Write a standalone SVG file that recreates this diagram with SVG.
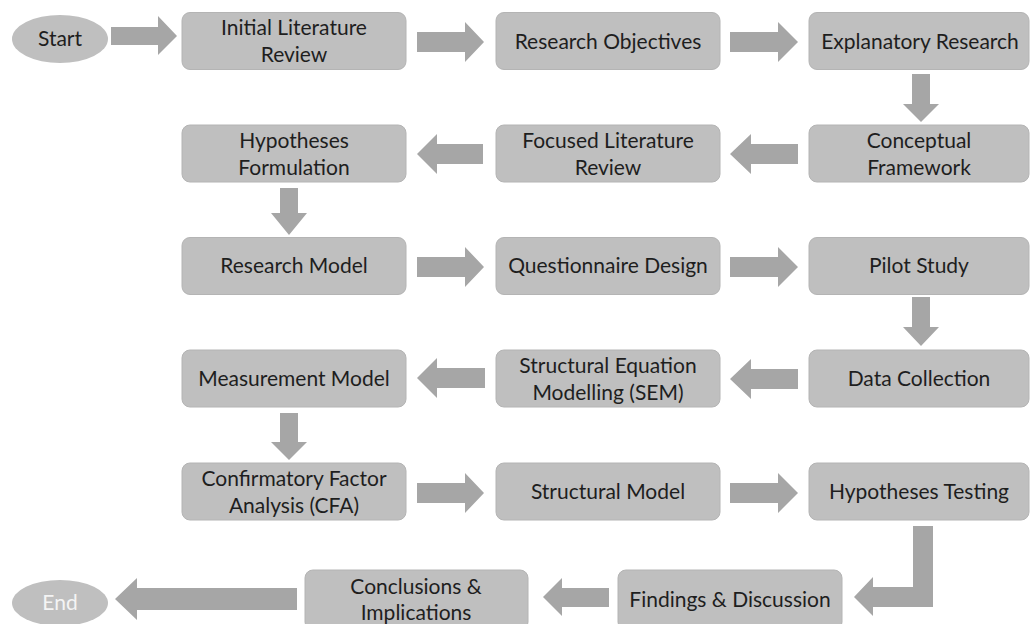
<svg xmlns="http://www.w3.org/2000/svg" width="1030" height="624" viewBox="0 0 1030 624">
  <style>
    .box { fill: #bfbfbf; stroke: #b4b4b4; stroke-width: 1; }
    .term { fill: #bfbfbf; }
    .arrow { fill: #a6a6a6; }
    text { font-family: Lato, "Open Sans", sans-serif; font-size: 21px; fill: #1e1e1e; text-anchor: middle; }
    .light { fill: #f4f4f4; }
  </style>

  <!-- Block-arrow connectors -->
  <g id="connectors">
    <!-- row 1 (rightward) -->
    <path class="arrow" d="M111,27 H158 V16 L177,36 L158,55 V45 H111 Z"/>
    <path class="arrow" d="M417,32 H465 V22 L484,42 L465,62 V52 H417 Z"/>
    <path class="arrow" d="M730,32 H778 V22 L798,42 L778,62 V52 H730 Z"/>
    <!-- Explanatory Research to Conceptual Framework -->
    <path class="arrow" d="M912,74 V104 H903 L921,122 L939,104 H930 V74 Z"/>
    <!-- row 2 (leftward) -->
    <path class="arrow" d="M798,144 H751 V134 L730,154 L751,174 V164 H798 Z"/>
    <path class="arrow" d="M483,144 H437 V134 L417,154 L437,174 V164 H483 Z"/>
    <!-- Hypotheses Formulation to Research Model -->
    <path class="arrow" d="M280,188 V213 H271 L289,235 L307,213 H298 V188 Z"/>
    <!-- row 3 (rightward) -->
    <path class="arrow" d="M417,257 H465 V247 L484,267 L465,287 V277 H417 Z"/>
    <path class="arrow" d="M730,257 H778 V247 L798,267 L778,287 V277 H730 Z"/>
    <!-- Pilot Study to Data Collection -->
    <path class="arrow" d="M912,297 V327 H903 L921,346 L939,327 H930 V297 Z"/>
    <!-- row 4 (leftward) -->
    <path class="arrow" d="M798,369 H751 V359 L730,379 L751,399 V389 H798 Z"/>
    <path class="arrow" d="M485,368 H437 V358 L417,378 L437,398 V388 H485 Z"/>
    <!-- Measurement Model to CFA -->
    <path class="arrow" d="M280,413 V442 H271 L289,460 L307,442 H298 V413 Z"/>
    <!-- row 5 (rightward) -->
    <path class="arrow" d="M417,483 H465 V473 L484,493 L465,513 V503 H417 Z"/>
    <path class="arrow" d="M730,483 H778 V473 L798,493 L778,513 V503 H730 Z"/>
    <!-- Hypotheses Testing down and round to Findings -->
    <path class="arrow" d="M913,526 H933 V607 H873 V616 L854,597 L873,577 V587 H913 Z"/>
    <!-- row 6 (leftward) -->
    <path class="arrow" d="M609,588 H562 V578 L543,597 L562,616 V607 H609 Z"/>
    <path class="arrow" d="M297,588 H137 V578 L115,599 L137,620 V610 H297 Z"/>
  </g>

  <g id="start">
    <ellipse class="term" cx="60" cy="39" rx="48" ry="24"/>
    <text x="60" y="46">Start</text>
  </g>

  <g id="initial-literature-review">
    <rect class="box" x="182" y="12.5" width="224" height="57" rx="8"/>
    <text x="294" y="35">Initial Literature</text>
    <text x="294" y="62">Review</text>
  </g>

  <g id="research-objectives">
    <rect class="box" x="496" y="12.5" width="224" height="57" rx="8"/>
    <text x="608" y="49">Research Objectives</text>
  </g>

  <g id="explanatory-research">
    <rect class="box" x="809" y="12.5" width="220" height="57" rx="8"/>
    <text x="920" y="49">Explanatory Research</text>
  </g>

  <g id="conceptual-framework">
    <rect class="box" x="809" y="125" width="220" height="57" rx="8"/>
    <text x="919" y="148">Conceptual</text>
    <text x="919" y="175">Framework</text>
  </g>

  <g id="focused-literature-review">
    <rect class="box" x="496" y="125" width="224" height="57" rx="8"/>
    <text x="608" y="148">Focused Literature</text>
    <text x="608" y="175">Review</text>
  </g>

  <g id="hypotheses-formulation">
    <rect class="box" x="182" y="125" width="224" height="57" rx="8"/>
    <text x="294" y="148">Hypotheses</text>
    <text x="294" y="175">Formulation</text>
  </g>

  <g id="research-model">
    <rect class="box" x="182" y="237.5" width="224" height="57" rx="8"/>
    <text x="294" y="273">Research Model</text>
  </g>

  <g id="questionnaire-design">
    <rect class="box" x="496" y="237.5" width="224" height="57" rx="8"/>
    <text x="608" y="273">Questionnaire Design</text>
  </g>

  <g id="pilot-study">
    <rect class="box" x="809" y="237.5" width="220" height="57" rx="8"/>
    <text x="919" y="273">Pilot Study</text>
  </g>

  <g id="data-collection">
    <rect class="box" x="809" y="350" width="220" height="57" rx="8"/>
    <text x="919" y="386">Data Collection</text>
  </g>

  <g id="sem">
    <rect class="box" x="496" y="350" width="224" height="57" rx="8"/>
    <text x="608" y="373">Structural Equation</text>
    <text x="608" y="400">Modelling (SEM)</text>
  </g>

  <g id="measurement-model">
    <rect class="box" x="182" y="350" width="224" height="57" rx="8"/>
    <text x="294" y="386">Measurement Model</text>
  </g>

  <g id="cfa">
    <rect class="box" x="182" y="463" width="224" height="57" rx="8"/>
    <text x="294" y="486">Confirmatory Factor</text>
    <text x="294" y="513">Analysis (CFA)</text>
  </g>

  <g id="structural-model">
    <rect class="box" x="496" y="463" width="224" height="57" rx="8"/>
    <text x="608" y="499">Structural Model</text>
  </g>

  <g id="hypotheses-testing">
    <rect class="box" x="809" y="463" width="220" height="57" rx="8"/>
    <text x="919" y="499">Hypotheses Testing</text>
  </g>

  <g id="findings-discussion">
    <rect class="box" x="618" y="570" width="224" height="60" rx="8"/>
    <text x="730" y="607">Findings &amp; Discussion</text>
  </g>

  <g id="conclusions-implications">
    <rect class="box" x="305" y="570" width="223" height="60" rx="8"/>
    <text x="416" y="594">Conclusions &amp;</text>
    <text x="416" y="620">Implications</text>
  </g>

  <g id="end">
    <ellipse class="term" cx="60" cy="603" rx="48" ry="23"/>
    <text class="light" x="60" y="610">End</text>
  </g>
</svg>
